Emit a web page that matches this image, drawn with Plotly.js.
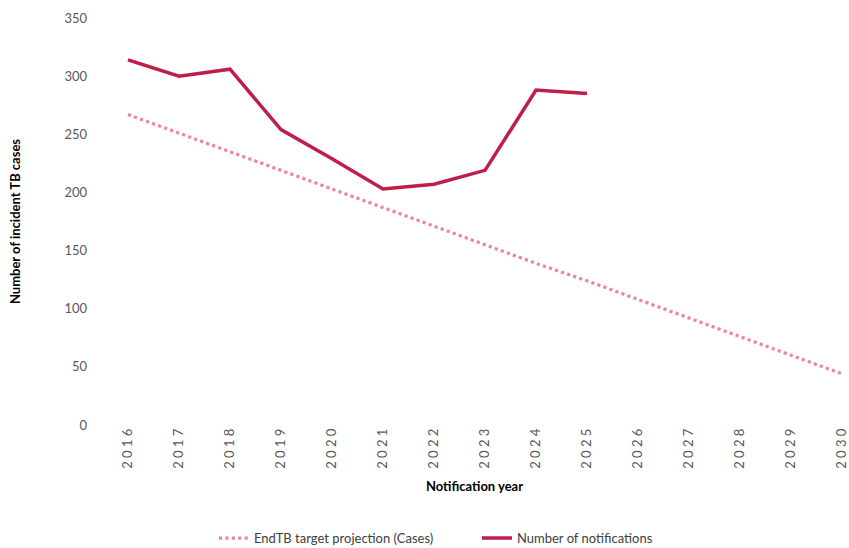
<!DOCTYPE html>
<html>
<head>
<meta charset="utf-8">
<script src="https://cdn.plot.ly/plotly-3.0.1.min.js"></script>
<style>
  html, body { margin: 0; padding: 0; background: #fff; }
  #chart { width: 849px; height: 548px; }
</style>
</head>
<body>
<div id="chart"></div>
<script>
// Notification years shown on the category axis
const years = [2016, 2017, 2018, 2019, 2020, 2021, 2022, 2023, 2024, 2025, 2026, 2027, 2028, 2029, 2030];
// Spaced-out year labels for the rotated axis ticks
const yearLabels = ['2 0 1 6', '2 0 1 7', '2 0 1 8', '2 0 1 9', '2 0 2 0', '2 0 2 1', '2 0 2 2', '2 0 2 3',
                    '2 0 2 4', '2 0 2 5', '2 0 2 6', '2 0 2 7', '2 0 2 8', '2 0 2 9', '2 0 3 0'];

// EndTB target projection (cases), 2016–2030
const projection = [267, 251, 235, 219, 203, 187, 171, 155, 139, 124, 108, 92, 76, 60, 44];

// Number of TB notifications observed, 2016–2025
const notifYears = [2016, 2017, 2018, 2019, 2020, 2021, 2022, 2023, 2024, 2025];
const notifications = [314, 300, 306, 254, 229, 203, 207, 219, 288, 285];

const yTicks = [0, 50, 100, 150, 200, 250, 300, 350];

const traces = [
  {
    x: years, y: projection,
    name: 'EndTB target projection (Cases)',
    type: 'scatter', mode: 'lines',
    line: { color: '#EC86A0', width: 3.2, dash: 'dot' },
    hoverinfo: 'x+y'
  },
  {
    x: notifYears, y: notifications,
    name: 'Number of notifications',
    type: 'scatter', mode: 'lines',
    line: { color: '#BE1E48', width: 3.5 },
    hoverinfo: 'x+y'
  }
];

const font = 'Lato, "Noto Sans", sans-serif';

const layout = {
  width: 849, height: 548,
  margin: { l: 100, r: 0, t: 18, b: 123 },
  paper_bgcolor: '#fff', plot_bgcolor: '#fff',
  font: { family: font, size: 13, color: '#595959' },
  showlegend: true,
  legend: {
    orientation: 'h', xref: 'container', yref: 'container',
    x: 0.252, xanchor: 'left', y: 0.018, yanchor: 'middle',
    font: { family: font, size: 13, color: '#404040' },
    traceorder: 'normal', entrywidth: 218, entrywidthmode: 'pixels'
  },
  xaxis: {
    range: [2015.451, 2030.137],
    automargin: false,
    tickmode: 'array', tickvals: years, ticktext: yearLabels,
    tickangle: -90, ticks: '', showgrid: false, zeroline: false, showline: false,
    ticklabeloverflow: 'allow',
    tickfont: { family: font, size: 13, color: '#595959' },
    title: { text: '<b>Notification year</b>', standoff: 14,
             font: { family: font, size: 13, color: '#000' } }
  },
  yaxis: {
    range: [0, 350],
    automargin: false,
    tickmode: 'array', tickvals: yTicks,
    ticks: '', showgrid: false, zeroline: false, showline: false,
    ticklabelstandoff: 12,
    tickfont: { family: font, size: 13, color: '#595959' },
    title: { text: '<b>Number of incident TB cases</b>', standoff: 40,
             font: { family: font, size: 13, color: '#000' } }
  }
};

Plotly.newPlot('chart', traces, layout, { displayModeBar: false, staticPlot: true });
</script>
</body>
</html>
